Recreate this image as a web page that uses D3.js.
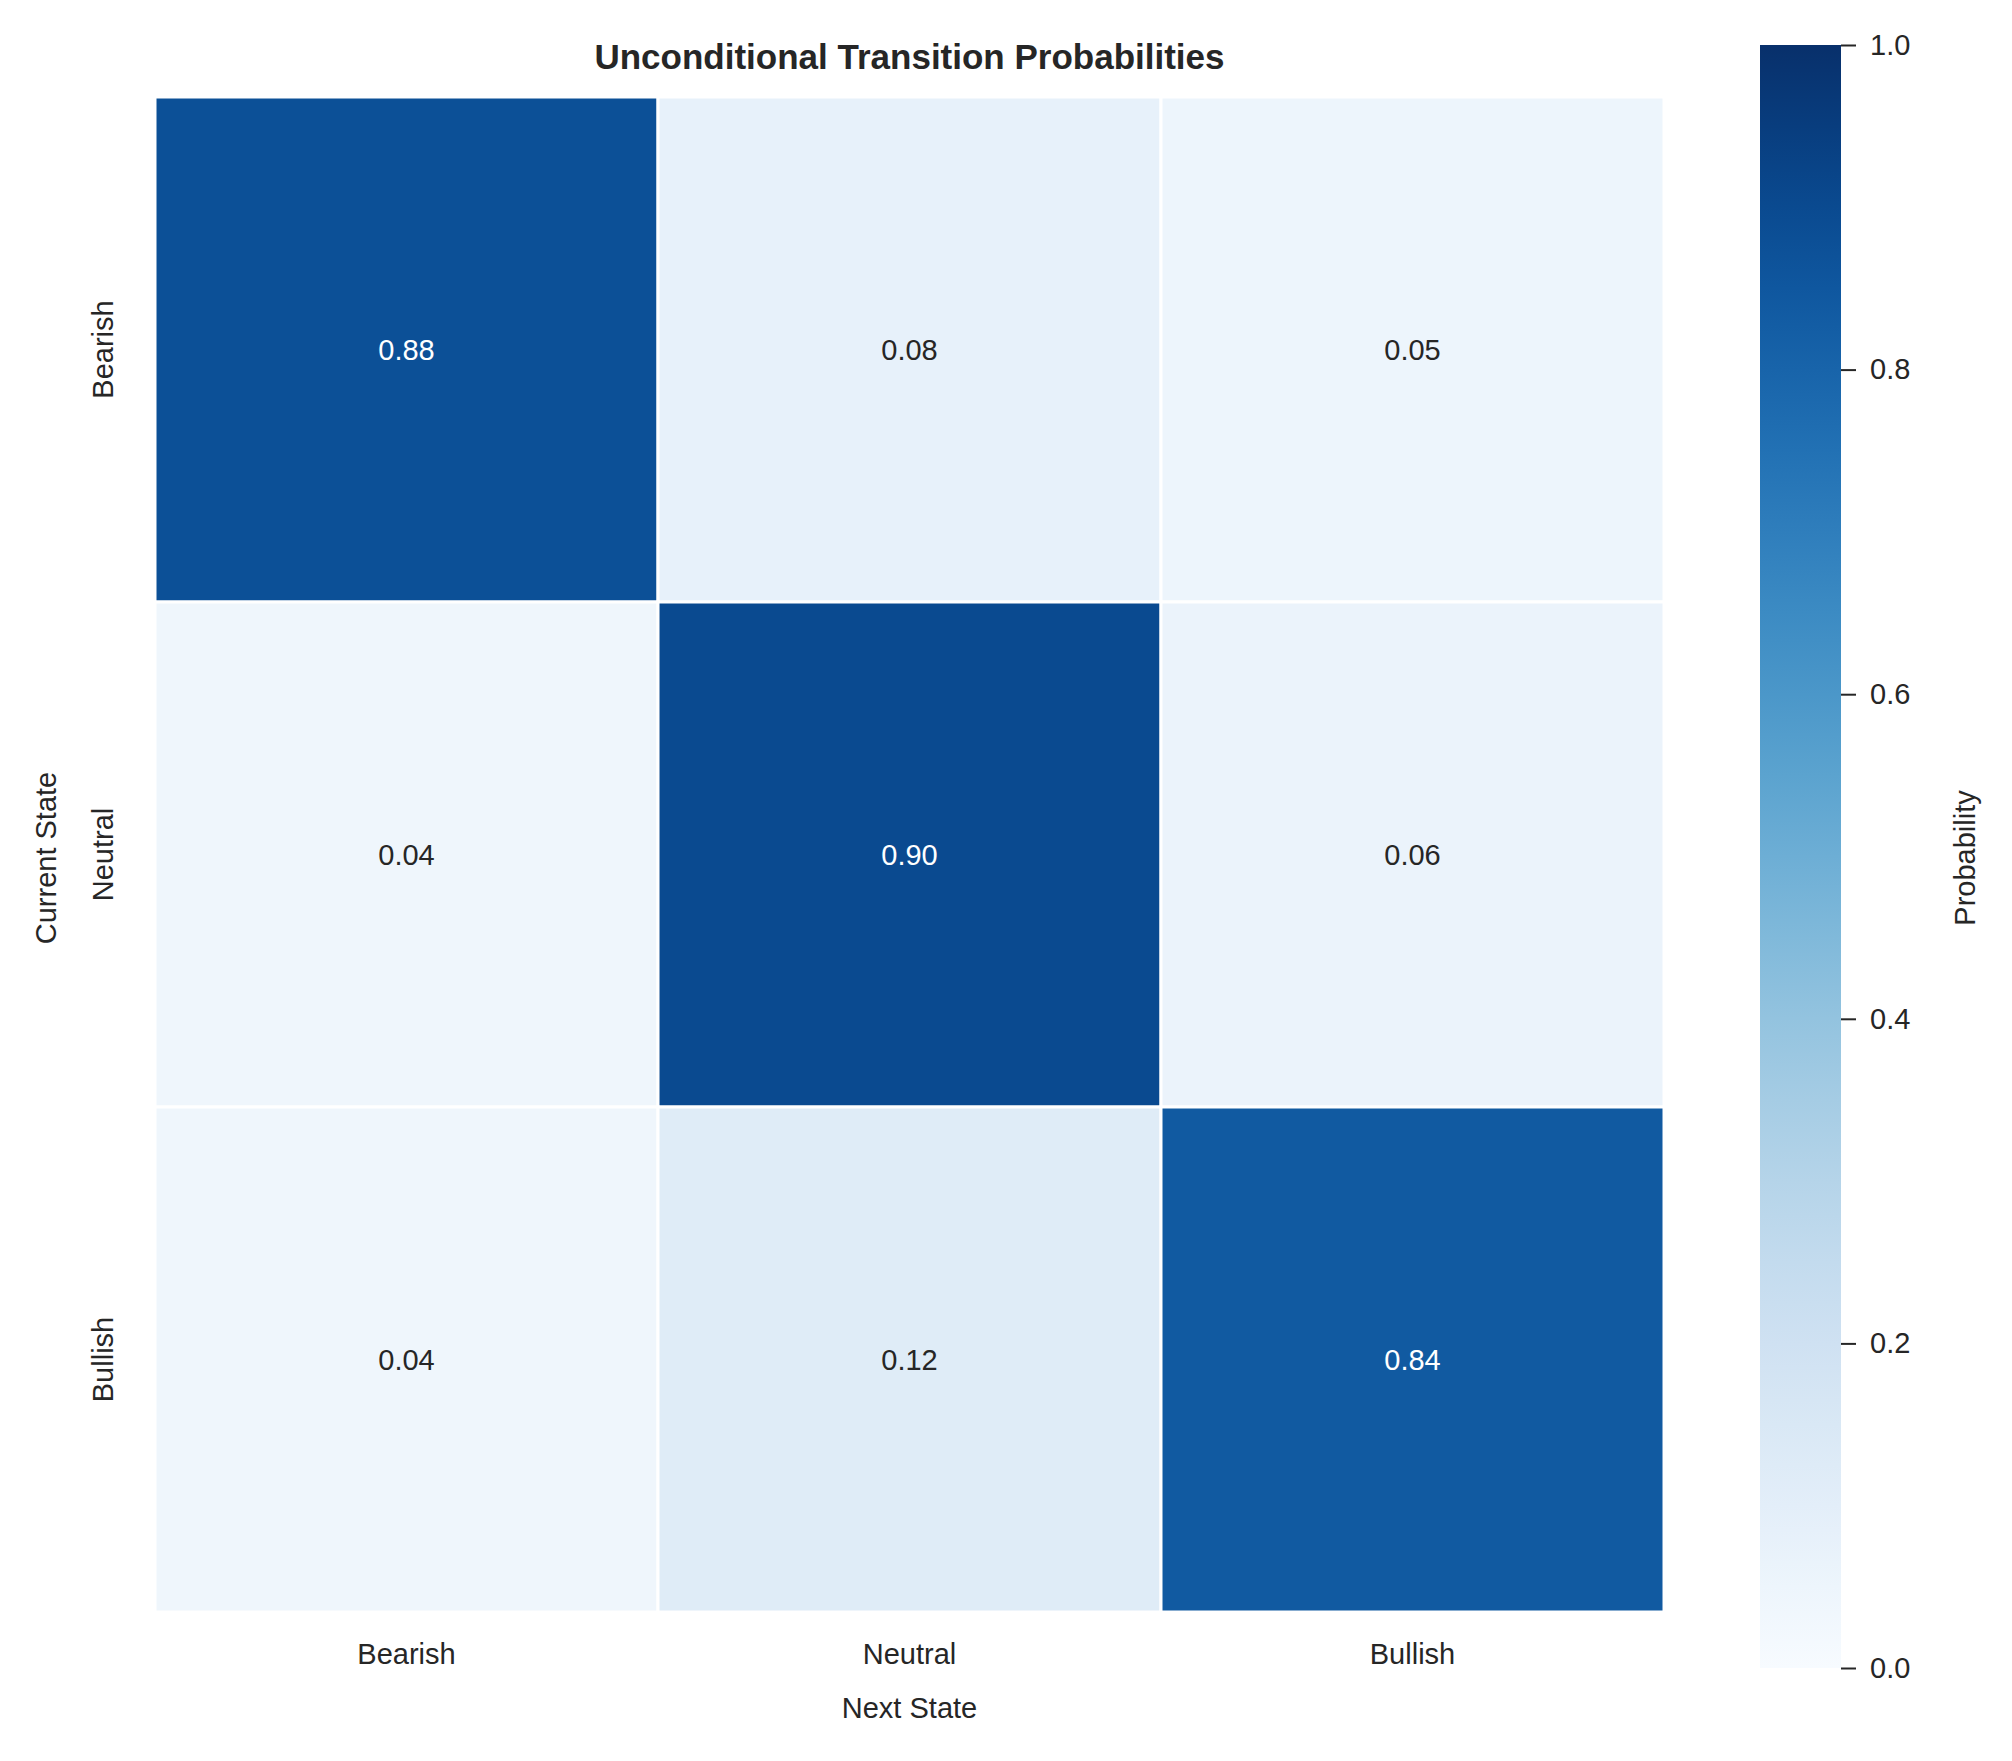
<!DOCTYPE html>
<html>
<head>
<meta charset="utf-8">
<script src="https://cdn.jsdelivr.net/npm/d3@7"></script>
<style>
  body { margin: 0; background: #fff; }
  text { font-family: "Liberation Sans", Arial, sans-serif; fill: #262626; }
</style>
</head>
<body>
<svg id="chart" width="2012" height="1761"></svg>
<script>
// data
var states = ['Bearish', 'Neutral', 'Bullish'];
var rowBearish = [0.88, 0.08, 0.05];
var rowNeutral = [0.04, 0.90, 0.06];
var rowBullish = [0.04, 0.12, 0.84];
var colorTicks = [0, 0.2, 0.4, 0.6, 0.8, 1.0];

var rows = [rowBearish, rowNeutral, rowBullish];
var cells = [];
rows.forEach(function (r, i) {
  r.forEach(function (v, j) { cells.push({ row: states[i], col: states[j], value: v }); });
});

var svg = d3.select('#chart');
var plotLeft = 155, plotRight = 1664, plotTop = 97, plotBottom = 1612;

var x = d3.scaleBand().domain(states).range([plotLeft, plotRight]);
var y = d3.scaleBand().domain(states).range([plotTop, plotBottom]);
var color = d3.scaleSequential(d3.interpolateBlues).domain([0, 1]);

svg.append('g').selectAll('rect')
  .data(cells).enter().append('rect')
  .attr('x', function (d) { return x(d.col); })
  .attr('y', function (d) { return y(d.row); })
  .attr('width', x.bandwidth())
  .attr('height', y.bandwidth())
  .attr('fill', function (d) { return color(d.value); })
  .attr('stroke', '#fff')
  .attr('stroke-width', 3);

svg.append('g').selectAll('text')
  .data(cells).enter().append('text')
  .attr('x', function (d) { return x(d.col) + x.bandwidth() / 2; })
  .attr('y', function (d) { return y(d.row) + y.bandwidth() / 2; })
  .attr('text-anchor', 'middle')
  .attr('dominant-baseline', 'central')
  .style('font-size', '29px')
  .style('fill', function (d) { return d.value > 0.5 ? '#fff' : '#262626'; })
  .text(function (d) { return d.value.toFixed(2); });

// axis labels
svg.append('g').selectAll('text')
  .data(states).enter().append('text')
  .attr('x', function (d) { return x(d) + x.bandwidth() / 2; })
  .attr('y', 1664)
  .attr('text-anchor', 'middle')
  .style('font-size', '29px')
  .text(function (d) { return d; });

svg.append('g').selectAll('text')
  .data(states).enter().append('text')
  .attr('transform', function (d) { return 'translate(113,' + (y(d) + y.bandwidth() / 2) + ') rotate(-90)'; })
  .attr('text-anchor', 'middle')
  .style('font-size', '29px')
  .text(function (d) { return d; });

svg.append('text').attr('x', (plotLeft + plotRight) / 2).attr('y', 1718)
  .attr('text-anchor', 'middle').style('font-size', '29px').text('Next State');
svg.append('text').attr('transform', 'translate(56,858) rotate(-90)')
  .attr('text-anchor', 'middle').style('font-size', '29px').text('Current State');
svg.append('text').attr('x', (plotLeft + plotRight) / 2).attr('y', 69)
  .attr('text-anchor', 'middle').style('font-size', '35px').style('font-weight', 'bold')
  .text('Unconditional Transition Probabilities');

// colorbar
var cbX = 1760, cbW = 81, cbTop = 45, cbBottom = 1668;
var cbScale = d3.scaleLinear().domain([0, 1]).range([cbBottom, cbTop]);
var grad = svg.append('defs').append('linearGradient').attr('id', 'cb')
  .attr('x1', 0).attr('y1', 1).attr('x2', 0).attr('y2', 0);
d3.range(0, 1.01, 0.05).forEach(function (t) {
  grad.append('stop').attr('offset', t).attr('stop-color', color(t));
});
svg.append('rect').attr('x', cbX).attr('y', cbTop).attr('width', cbW)
  .attr('height', cbBottom - cbTop).attr('fill', 'url(#cb)');

var cbAxis = svg.append('g').attr('transform', 'translate(' + (cbX + cbW) + ',0)')
  .call(d3.axisRight(cbScale).tickValues(colorTicks).tickFormat(d3.format('.1f')).tickSize(15).tickPadding(14));
cbAxis.select('.domain').remove();
cbAxis.selectAll('line').attr('stroke', '#262626').attr('stroke-width', 2);
cbAxis.selectAll('text').style('font-size', '29px').attr('fill', '#262626')
  .style('font-family', '"Liberation Sans", Arial, sans-serif');

svg.append('text').attr('transform', 'translate(1975,858) rotate(-90)')
  .attr('text-anchor', 'middle').style('font-size', '29px').text('Probability');
</script>
</body>
</html>
